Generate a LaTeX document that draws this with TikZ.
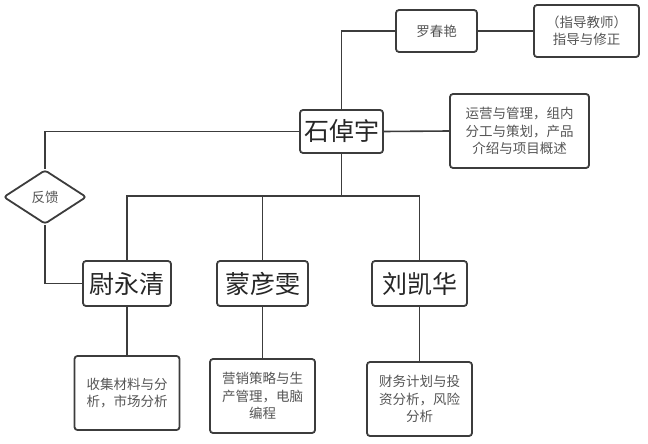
\documentclass[tikz,border=0pt]{standalone}
\usepackage{fontspec}
\setmainfont{Noto Sans CJK SC}
\usetikzlibrary{shapes.geometric}
\definecolor{linegray}{HTML}{3C3C3C}
\definecolor{textgray}{HTML}{555555}
\begin{document}
\begin{tikzpicture}
	[x=1pt,y=-1pt,
	 person/.style={draw=linegray,line width=1.8pt,rounded corners=3pt,fill=white,inner sep=0pt,font=\fontsize{25}{28}\selectfont,text=black!85},
	 note/.style={draw=linegray,line width=1.8pt,rounded corners=3pt,fill=white,inner sep=0pt,align=center,font=\fontsize{13.5}{17.5}\selectfont,text=textgray},
	 link/.style={draw=linegray,line width=1.6pt}]
    \useasboundingbox (0,0) rectangle (648,444);

    \node[note,minimum width=81pt,minimum height=42pt] (luo) at (436.5,31) {罗春艳};
    \node[note,minimum width=105pt,minimum height=52pt] (guide) at (586.5,31) {（指导教师）\\指导与修正};
    \node[person,minimum width=83pt,minimum height=43pt] (shi) at (341.5,131.5) {石倬宇};
    \node[note,minimum width=139pt,minimum height=74pt] (intro) at (519.5,131) {运营与管理，组内\\分工与策划，产品\\介绍与项目概述};
    \node[note,diamond,minimum width=83pt,minimum height=54pt] (fankui) at (45,197) {反馈};

    \node[person,minimum width=88pt,minimum height=45pt] (yu) at (127,283.5) {尉永清};
    \node[person,minimum width=91pt,minimum height=45pt] (meng) at (262.5,283.5) {蒙彦雯};
    \node[person,minimum width=95pt,minimum height=45pt] (liu) at (419.5,283.5) {刘凯华};

    \node[note,minimum width=105pt,minimum height=74pt] (task1) at (127,393) {收集材料与分\\析，市场分析};
    \node[note,minimum width=105pt,minimum height=74pt] (task2) at (262.5,396) {营销策略与生\\产管理，电脑\\编程};
    \node[note,minimum width=105pt,minimum height=74pt] (task3) at (419.5,399) {财务计划与投\\资分析，风险\\分析};

    \coordinate (bus) at (341.5,196);

    \draw[link] (shi.north) |- (luo.west);
    \draw[link] (luo.east) -- (guide.west);
    \draw[link] (shi.east) -- (intro.west);
    \draw[link] (shi.west) -| (fankui.north);
    \draw[link] (fankui.south) |- (yu.west);
    \draw[link] (shi.south) -- (bus);
    \draw[link] (yu.north) |- (bus) -| (liu.north);
    \draw[link] (meng.north) -- (meng.north |- bus);
    \draw[link] (yu.south) -- (task1.north);
    \draw[link] (meng.south) -- (task2.north);
    \draw[link] (liu.south) -- (task3.north);

\end{tikzpicture}
\end{document}
